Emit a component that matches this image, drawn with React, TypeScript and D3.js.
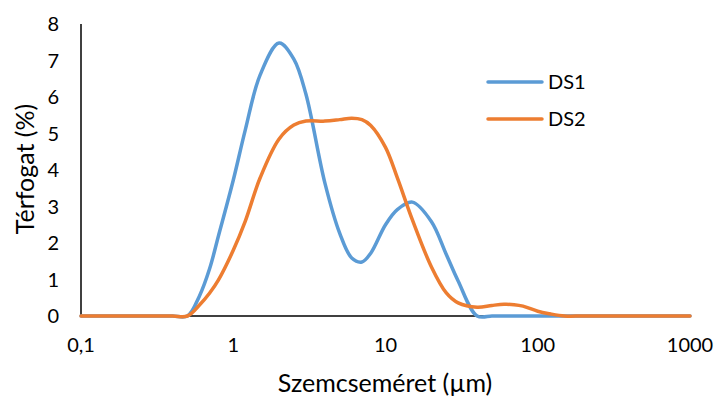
import * as d3 from 'd3';

// particle size (µm) and volume %
const sizes = [0.1, 0.2, 0.3, 0.4, 0.5, 0.6, 0.7, 0.8, 1, 1.2, 1.5, 2, 2.5, 3, 4, 5, 6, 7, 8, 10, 12, 15, 20, 25, 30, 40, 50, 60, 70, 80, 100, 120, 150, 200, 500, 1000];
const ds1 = [0, 0, 0, 0, 0, 0.55, 1.3, 2.2, 3.72, 5.1, 6.6, 7.48, 7.04, 6.08, 3.64, 2.27, 1.59, 1.48, 1.72, 2.5, 2.92, 3.12, 2.59, 1.7, 0.96, 0, 0, 0, 0, 0, 0, 0, 0, 0, 0, 0];
const ds2 = [0, 0, 0, 0, 0, 0.3, 0.63, 0.99, 1.8, 2.6, 3.78, 4.85, 5.23, 5.34, 5.34, 5.38, 5.42, 5.38, 5.22, 4.62, 3.77, 2.64, 1.35, 0.64, 0.36, 0.24, 0.29, 0.32, 0.31, 0.27, 0.13, 0.06, 0, 0, 0, 0];
const seriesNames = ['DS1', 'DS2'];
const colors = ['#5B9BD5', '#ED7D31'];
const xTicks = [0.1, 1, 10, 100, 1000];
const yTicks = [0, 1, 2, 3, 4, 5, 6, 7, 8];

const width = 716;
const height = 398;
const font = 'Lato, "Open Sans", sans-serif';

const App = () => {
  const x = d3.scaleLog().domain([0.1, 1000]).range([81, 690]);
  const y = d3.scaleLinear().domain([0, 8]).range([316, 24]);
  const line = d3
    .line<number>()
    .x((_, i) => x(sizes[i]))
    .y((d) => y(d))
    .curve(d3.curveCatmullRom.alpha(0.5));

  const series = [ds1, ds2];

  return (
    <svg
      width={width}
      height={height}
      style={{ position: 'absolute', left: 0, top: 0, background: '#fff' }}
      fontFamily={font}
    >
      <line x1={x(0.1)} x2={x(1000)} y1={y(0)} y2={y(0)} stroke='#000' strokeWidth={1.5} />
      <line x1={x(0.1)} x2={x(0.1)} y1={y(0)} y2={y(8)} stroke='#000' strokeWidth={1.5} />

      {yTicks.map((t) => (
        <text key={t} x={59} y={y(t)} dy='0.36em' textAnchor='end' fontSize={20} fill='#000'>
          {t}
        </text>
      ))}
      {xTicks.map((t) => (
        <text key={t} x={x(t)} y={352} textAnchor='middle' fontSize={20} fill='#000'>
          {t === 0.1 ? '0,1' : t}
        </text>
      ))}

      {series.map((s, i) => (
        <path
          key={i}
          d={line(s) as string}
          fill='none'
          stroke={colors[i]}
          strokeWidth={3.5}
          strokeLinecap='round'
          strokeLinejoin='round'
        />
      ))}

      {seriesNames.map((name, i) => (
        <g key={name} transform={'translate(488,' + (82 + i * 37) + ')'}>
          <line x1={0} x2={54} y1={0} y2={0} stroke={colors[i]} strokeWidth={3.5} strokeLinecap='round' />
          <text x={60} y={0} dy='0.36em' fontSize={20} fill='#000'>
            {name}
          </text>
        </g>
      ))}

      <text x={385} y={392} textAnchor='middle' fontSize={25} fill='#000'>
        Szemcseméret (µm)
      </text>
      <text
        transform='translate(34,169) rotate(-90)'
        textAnchor='middle'
        fontSize={25}
        fill='#000'
      >
        Térfogat (%)
      </text>
    </svg>
  );
};

export default App;
